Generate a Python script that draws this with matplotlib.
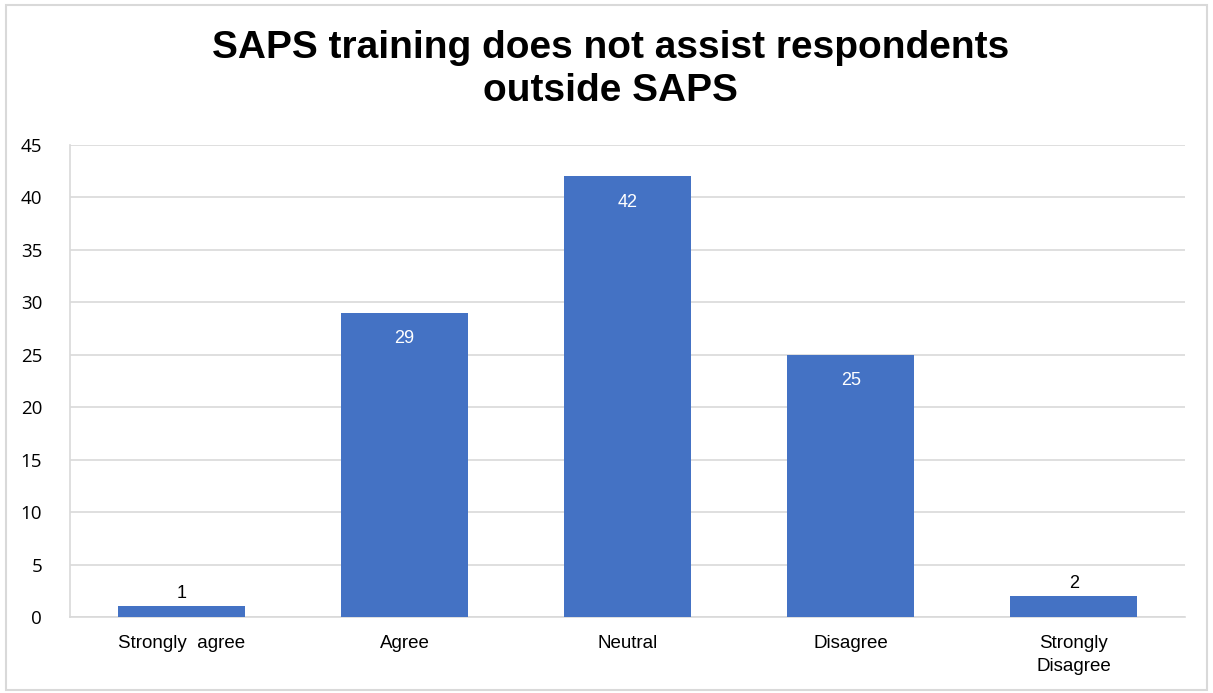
import matplotlib.pyplot as plt
from matplotlib.patches import Rectangle

categories = ["Strongly  agree", "Agree", "Neutral", "Disagree", "Strongly\nDisagree"]
counts = [1, 29, 42, 25, 2]
yticks = [0, 5, 10, 15, 20, 25, 30, 35, 40, 45]
title = "SAPS training does not assist respondents\noutside SAPS"

bar_color = "#4472C4"
grid_color = "#D9D9D9"

plt.rcParams['font.family'] = ['Liberation Sans', 'DejaVu Sans']

fig = plt.figure(figsize=(12.13, 6.93), dpi=100)
ax = fig.add_axes([0.0577, 0.1097, 0.9194, 0.6811])

x = list(range(len(categories)))
bars = ax.bar(x, counts, width=0.57, color=bar_color, zorder=3)

# data labels: inside for tall bars, above for short ones
for b, v in zip(bars, counts):
    cx = b.get_x() + b.get_width() / 2
    if v > 10:
        ax.annotate(str(v), (cx, v), xytext=(0, -18.5), textcoords="offset points",
                    ha="center", va="center", color="white", fontsize=13, zorder=4)
    else:
        ax.annotate(str(v), (cx, v), xytext=(0, 9), textcoords="offset points",
                    ha="center", va="center", color="black", fontsize=13, zorder=4)

ax.set_xlim(-0.5, 4.5)
ax.set_ylim(0, 45)
ax.set_yticks(yticks)
ax.set_xticks(x)
ax.set_xticklabels(categories, fontsize=13.5, linespacing=1.45)
ax.tick_params(axis="y", labelsize=13.5, length=0, pad=20)
ax.tick_params(axis="x", length=0, pad=13)
for lab in ax.get_yticklabels():
    lab.set_fontfamily(['Open Sans', 'DejaVu Sans'])

ax.grid(axis="y", color=grid_color, linewidth=1.2, zorder=0)
for s in ["top", "right"]:
    ax.spines[s].set_visible(False)
ax.spines["left"].set_color(grid_color)
ax.spines["left"].set_linewidth(1.2)
ax.spines["bottom"].set_color(grid_color)
ax.spines["bottom"].set_linewidth(1.2)

fig.text(0.503, 0.899, title, ha="center", va="center", fontsize=28,
         fontweight="bold", linespacing=1.25)

# outer chart border
fig.patches.append(Rectangle((0.005, 0.004), 0.99, 0.989, transform=fig.transFigure,
                             fill=False, edgecolor="#D9D9D9", linewidth=1.5))

fig.savefig("out.png", dpi=100)
